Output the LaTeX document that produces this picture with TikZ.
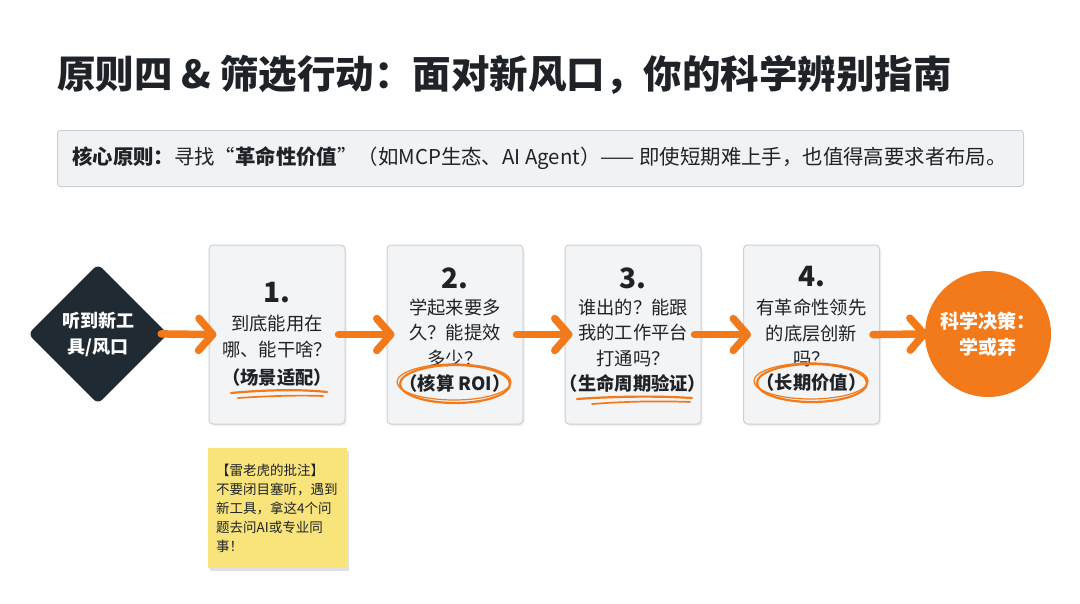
\documentclass[tikz,border=0pt]{standalone}
\usepackage{fontspec}
\setmainfont{Noto Sans CJK SC}
\usetikzlibrary{arrows.meta,shapes.geometric}
\definecolor{ink}{HTML}{1F2328}
\definecolor{accent}{HTML}{F27A1A}
\definecolor{boxfill}{HTML}{F3F4F6}
\definecolor{boxline}{HTML}{CDCFD2}
\definecolor{corefill}{HTML}{F0F2F4}
\definecolor{dark}{HTML}{1F2A33}
\definecolor{notefill}{HTML}{F9E47C}
\begin{document}
\begin{tikzpicture}[x=1pt,y=-1pt,
  stepbox/.style={draw=boxline, fill=boxfill, line width=1, rounded corners=4, minimum width=136, minimum height=179, inner sep=0,
    preaction={fill=black, opacity=0.06, transform canvas={shift={(1.5pt,-2pt)}}}},
  numtxt/.style={font=\bfseries\fontsize{28}{30}\selectfont, text=ink, inner sep=0},
  bodytxt/.style={font=\fontsize{18.3}{25.5}\selectfont, text=ink, align=center, inner sep=0},
  keytxt/.style={font=\bfseries\fontsize{18.3}{22}\selectfont, text=ink, inner sep=0},
  arr/.style={draw=accent, line width=7.5, line cap=round, shorten <=-7pt, shorten >=-8pt,
    -{Straight Barb[round, length=14pt, width=32pt]}},
  scrib/.style={draw=accent, line width=2.2, line cap=round}
]
\useasboundingbox[fill=white] (0,0) rectangle (1080,603);

% title
\node[anchor=west, inner sep=0, text=ink, font=\bfseries\fontsize{38.5}{42}\selectfont] (title) at (57,75)
  {原则四 \& 筛选行动：面对新风口，你的科学辨别指南};

% core principle box
\node[draw=boxline, fill=corefill, line width=1, rounded corners=3, minimum width=966, minimum height=56,
  anchor=north west, inner sep=0] (core) at (57,130) {};
\node[anchor=west, inner sep=0, text=ink, font=\fontsize{20.4}{24}\selectfont] (coretext) at (72,158)
  {\textbf{核心原则：}寻找“\textbf{革命性价值}”（如MCP生态、AI Agent）—— 即使短期难上手，也值得高要求者布局。};

% start diamond
\node[diamond, aspect=1, fill=dark, rounded corners=6, minimum width=140, minimum height=140, inner sep=0] (start) at (98,334) {};
\node[text=white, align=center, inner sep=0, font=\bfseries\fontsize{18}{26}\selectfont] (starttxt) at (start.center) {听到新工\\具/风口};

% step boxes
\node[stepbox] (b1) at (277,334.5) {};
\node[stepbox] (b2) at (455,334.5) {};
\node[stepbox] (b3) at (633,334.5) {};
\node[stepbox] (b4) at (811.5,334.5) {};

\node[numtxt] (n1) at (277,293) {1.};
\node[bodytxt] (q1) at (277,336.5) {到底能用在\\哪、能干啥？};
\node[keytxt] (k1) at (277,378) {（场景适配）};

\node[numtxt] (n2) at (455,278) {2.};
\node[bodytxt] (q2) at (455,332.5) {学起来要多\\久？能提效\\多少？};
\node[keytxt] (k2) at (455,384) {（核算 ROI）};

\node[numtxt] (n3) at (633,278) {3.};
\node[bodytxt] (q3) at (633,332.5) {谁出的？能跟\\我的工作平台\\打通吗？};
\node[keytxt] (k3) at (633,383) {（生命周期验证）};

\node[numtxt] (n4) at (811.5,277) {4.};
\node[bodytxt] (q4) at (811.5,333) {有革命性领先\\的底层创新\\吗？};
\node[keytxt] (k4) at (811.5,383) {（长期价值）};

% decision circle
\node[circle, fill=accent, minimum size=126, inner sep=0, text=white, align=center,
  font=\bfseries\fontsize{19}{26}\selectfont] (dec) at (988,334) {科学决策：\\学或弃};

% arrows
\draw[arr] (start.east) -- (b1.west);
\draw[arr] (b1.east) -- (b2.west);
\draw[arr] (b2.east) -- (b3.west);
\draw[arr] (b3.east) -- (b4.west);
\draw[arr, shorten >=-3pt] (b4.east) -- (dec.west);

% hand-drawn marks
\draw[scrib] (231,393) .. controls (262,390) and (300,389) .. (327,392);
\draw[scrib, line width=1.7] (238,398) .. controls (268,396) and (298,395) .. (323,396);
\draw[scrib] (577,399) .. controls (620,396) and (660,396) .. (692,398);
\draw[scrib, line width=1.7] (592,404) .. controls (630,401) and (665,401) .. (690,402);
\draw[scrib] (455,384) ellipse [x radius=55, y radius=19];
\draw[scrib, line width=1.2] (454,382) ellipse [x radius=57, y radius=18];
\draw[scrib] (812,383) ellipse [x radius=55, y radius=19];
\draw[scrib, line width=1.2] (811,381) ellipse [x radius=57, y radius=18];

% sticky note
\node[fill=notefill, minimum width=139, minimum height=120, anchor=north west, inner sep=0,
  preaction={fill=black, opacity=0.12, transform canvas={shift={(2pt,-3pt)}}}] (note) at (208,448) {};
\node[anchor=north west, align=left, inner sep=0, text=ink, font=\fontsize{13.5}{19}\selectfont] (notetxt) at (216,464)
  {【雷老虎的批注】\\不要闭目塞听，遇到\\新工具，拿这4个问\\题去问AI或专业同\\事！};
\end{tikzpicture}
\end{document}
